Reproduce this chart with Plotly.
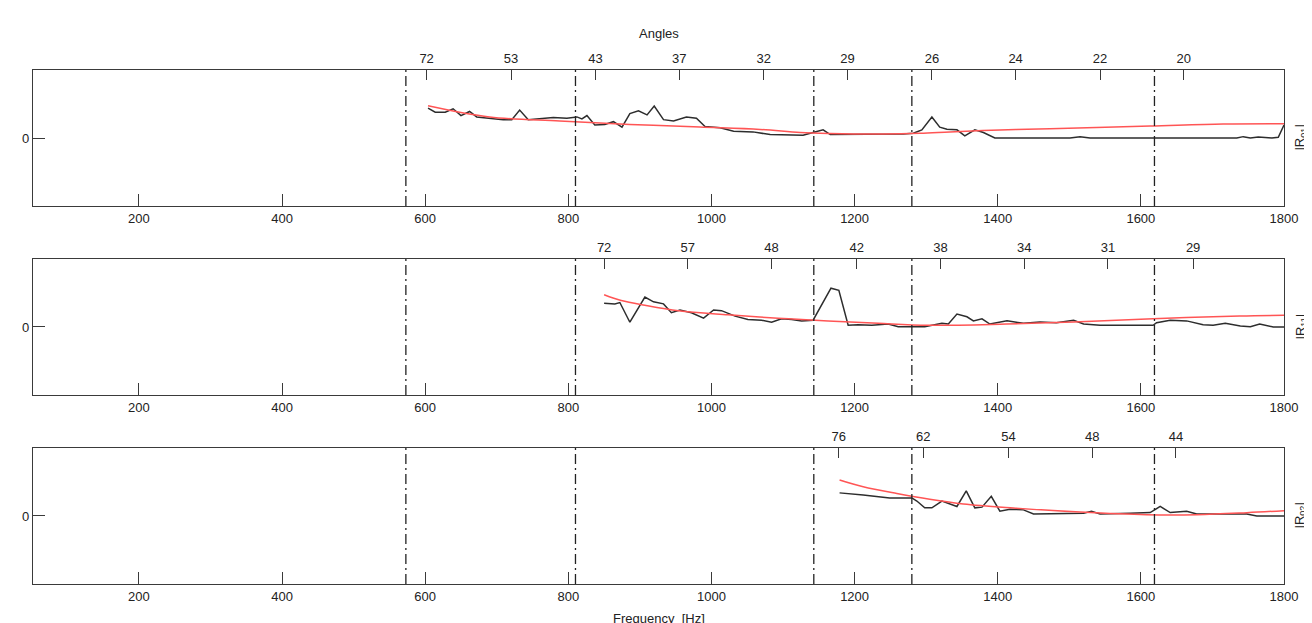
import plotly.graph_objects as go

# ---------------- data ----------------
# vertical dash-dot reference frequencies [Hz]
vlines_hz = [573, 810, 1143, 1280, 1619]

# panel 1 : |R01|
r01_freq = [604, 614, 628, 639, 650, 662, 672, 691, 709, 721, 732, 744, 760, 779, 798,
            812, 819, 826, 837, 851, 863, 875, 886, 898, 910, 920, 933, 947, 965, 979,
            991, 1012, 1031, 1058, 1082, 1105, 1128, 1142, 1156, 1166, 1208, 1268, 1282,
            1294, 1308, 1319, 1329, 1343, 1354, 1368, 1380, 1396, 1501, 1515, 1529, 1734,
            1743, 1753, 1764, 1783, 1792, 1800]
r01_meas = [0.44, 0.38, 0.38, 0.43, 0.33, 0.39, 0.31, 0.29, 0.27, 0.27, 0.41, 0.27, 0.28,
            0.30, 0.29, 0.31, 0.28, 0.33, 0.19, 0.20, 0.24, 0.16, 0.36, 0.40, 0.34, 0.47,
            0.27, 0.25, 0.31, 0.29, 0.17, 0.15, 0.10, 0.09, 0.05, 0.04, 0.04, 0.08, 0.12,
            0.05, 0.05, 0.06, 0.07, 0.12, 0.31, 0.16, 0.13, 0.12, 0.03, 0.12, 0.08, 0.00,
            0.00, 0.02, 0.00, 0.00, 0.02, 0.00, 0.015, 0.00, 0.01, 0.19]
r01_model_freq = [604, 690, 788, 886, 984, 1068, 1124, 1166, 1240, 1291, 1333, 1403, 1473,
                  1613, 1715, 1800]
r01_model = [0.475, 0.31, 0.25, 0.20, 0.16, 0.125, 0.08, 0.066, 0.059, 0.069, 0.088, 0.118,
             0.137, 0.176, 0.206, 0.21]
r01_angle_pos = [602, 720, 838, 955, 1073, 1190, 1308, 1425, 1543, 1660]
r01_angle_lbl = ["72", "53", "43", "37", "32", "29", "26", "24", "22", "20"]

# panel 2 : |R11|
r11_freq = [850, 865, 872, 886, 907, 919, 933, 944, 956, 972, 989, 1003, 1014, 1033, 1051,
            1070, 1084, 1098, 1112, 1126, 1142, 1154, 1167, 1178, 1191, 1205, 1224, 1247,
            1261, 1298, 1322, 1331, 1343, 1357, 1366, 1378, 1389, 1413, 1436, 1459, 1482,
            1506, 1520, 1543, 1617, 1622, 1641, 1664, 1687, 1701, 1718, 1739, 1753, 1766,
            1785, 1800]
r11_meas = [0.35, 0.34, 0.36, 0.07, 0.44, 0.37, 0.34, 0.21, 0.25, 0.21, 0.13, 0.25, 0.24,
            0.16, 0.11, 0.10, 0.07, 0.12, 0.11, 0.09, 0.10, 0.33, 0.57, 0.54, 0.025, 0.034,
            0.025, 0.044, 0.005, 0.005, 0.054, 0.044, 0.19, 0.15, 0.09, 0.12, 0.044, 0.09,
            0.054, 0.074, 0.064, 0.10, 0.044, 0.025, 0.025, 0.064, 0.10, 0.09, 0.034, 0.025,
            0.054, 0.015, 0.005, 0.044, 0.00, 0.00]
r11_model_freq = [850, 874, 907, 954, 1023, 1093, 1163, 1233, 1303, 1412, 1506, 1617, 1738,
                  1800]
r11_model = [0.475, 0.39, 0.32, 0.24, 0.18, 0.13, 0.09, 0.054, 0.025, 0.044, 0.074, 0.122,
             0.162, 0.172]
r11_angle_pos = [850, 967, 1084, 1203, 1320, 1437, 1554, 1673]
r11_angle_lbl = ["72", "57", "48", "42", "38", "34", "31", "29"]

# panel 3 : |R02|
r02_freq = [1179, 1212, 1249, 1280, 1287, 1298, 1308, 1322, 1343, 1356, 1368, 1378, 1391,
            1403, 1417, 1436, 1450, 1492, 1520, 1531, 1543, 1585, 1613, 1627, 1641, 1664,
            1678, 1748, 1762, 1800]
r02_meas = [0.34, 0.31, 0.265, 0.265, 0.22, 0.12, 0.12, 0.22, 0.14, 0.37, 0.12, 0.13, 0.29,
            0.07, 0.10, 0.09, 0.03, 0.04, 0.04, 0.07, 0.03, 0.04, 0.05, 0.14, 0.05, 0.07,
            0.03, 0.03, 0.00, 0.00]
r02_model_freq = [1179, 1212, 1259, 1305, 1352, 1422, 1515, 1608, 1678, 1748, 1800]
r02_model = [0.53, 0.43, 0.33, 0.245, 0.176, 0.118, 0.059, 0.02, 0.02, 0.049, 0.078]
r02_angle_pos = [1178, 1296, 1415, 1532, 1649]
r02_angle_lbl = ["76", "62", "54", "48", "44"]

freq_ticks = [200, 400, 600, 800, 1000, 1200, 1400, 1600, 1800]
x_range = [52, 1800]
y_range = [-1, 1]

panels = [
    ("|R<sub>01</sub>|", r01_freq, r01_meas, r01_model_freq, r01_model, r01_angle_pos, r01_angle_lbl),
    ("|R<sub>11</sub>|", r11_freq, r11_meas, r11_model_freq, r11_model, r11_angle_pos, r11_angle_lbl),
    ("|R<sub>02</sub>|", r02_freq, r02_meas, r02_model_freq, r02_model, r02_angle_pos, r02_angle_lbl),
]

# ---------------- figure ----------------
FONT = "Liberation Sans, Arial, sans-serif"
AX = "#3a3a3a"
TXT = "#222"
domains = [[0.7354, 1.0], [0.3677, 0.6323], [0.0, 0.2646]]

fig = go.Figure()
layout = dict(
    template="none",
    width=1304, height=615,          # page body adds an 8 px margin
    margin=dict(l=25, r=28, t=62, b=39, autoexpand=False),
    paper_bgcolor="white", plot_bgcolor="white",
    showlegend=False,
    font=dict(family=FONT, size=13, color=TXT),
    shapes=[], annotations=[],
)

for i, (lab, fx, fy, mx, my, apos, albl) in enumerate(panels):
    n = i + 1
    xa = "x" if n == 1 else f"x{n}"
    ya = "y" if n == 1 else f"y{n}"
    xt = f"x{n + 3}"
    fig.add_trace(go.Scatter(x=fx, y=fy, mode="lines", xaxis=xa, yaxis=ya,
                             line=dict(color="rgb(45,45,45)", width=1.5),
                             hoverinfo="skip"))
    fig.add_trace(go.Scatter(x=mx, y=my, mode="lines", xaxis=xa, yaxis=ya,
                             line=dict(color="rgb(255,85,85)", width=1.5, shape="spline"),
                             hoverinfo="skip"))
    # dummy trace for the top (angles) axis
    fig.add_trace(go.Scatter(x=[None], y=[None], xaxis=xt, yaxis=ya, mode="lines",
                             hoverinfo="skip"))

    layout[f"xaxis{'' if n == 1 else n}"] = dict(
        domain=[0, 1], anchor=ya, range=x_range, tickvals=freq_ticks,
        ticks="inside", ticklen=12, tickcolor=AX, tickwidth=1.3,
        showline=True, linecolor=AX, linewidth=1.3, mirror=True,
        showgrid=False, zeroline=False, automargin=False,
        tickfont=dict(size=13, color=TXT),
    )
    layout[f"xaxis{n + 3}"] = dict(
        overlaying=xa, anchor=ya, side="top", range=x_range,
        tickvals=apos, ticktext=albl,
        ticks="inside", ticklen=10, tickcolor=AX, tickwidth=1.3,
        showline=False, showgrid=False, zeroline=False, automargin=False,
        ticklabelstandoff=3, tickfont=dict(size=13, color=TXT),
    )
    layout[f"yaxis{'' if n == 1 else n}"] = dict(
        domain=domains[i], anchor=xa, range=y_range, tickvals=[0],
        ticks="inside", ticklen=12, tickcolor=AX, tickwidth=1.3,
        showline=True, linecolor=AX, linewidth=1.3, mirror=True,
        showgrid=False, zeroline=False, automargin=False,
        tickfont=dict(size=13, color=TXT),
    )
    for v in vlines_hz:
        layout["shapes"].append(dict(
            type="line", xref=xa, yref=f"{ya} domain", x0=v, x1=v, y0=0, y1=1,
            line=dict(color="#222", width=1.3, dash="10px,4px,2px,4px"), layer="above"))
    layout["annotations"].append(dict(
        text=lab, xref="paper", yref=f"{ya} domain", x=1.0, y=0.5,
        xanchor="left", yanchor="middle", xshift=6, textangle=-90,
        showarrow=False, font=dict(size=13, color=TXT)))

layout["annotations"].append(dict(
    text="Angles", xref="paper", yref="paper", x=0.5, y=1.0, yshift=37,
    xanchor="center", yanchor="middle", showarrow=False, font=dict(size=13, color=TXT)))
layout["annotations"].append(dict(
    text="Frequency  [Hz]", xref="paper", yref="paper", x=0.5, y=0.0, yshift=-34,
    xanchor="center", yanchor="middle", showarrow=False, font=dict(size=13, color=TXT)))

fig.update_layout(**layout)
fig.write_html("out.html")
